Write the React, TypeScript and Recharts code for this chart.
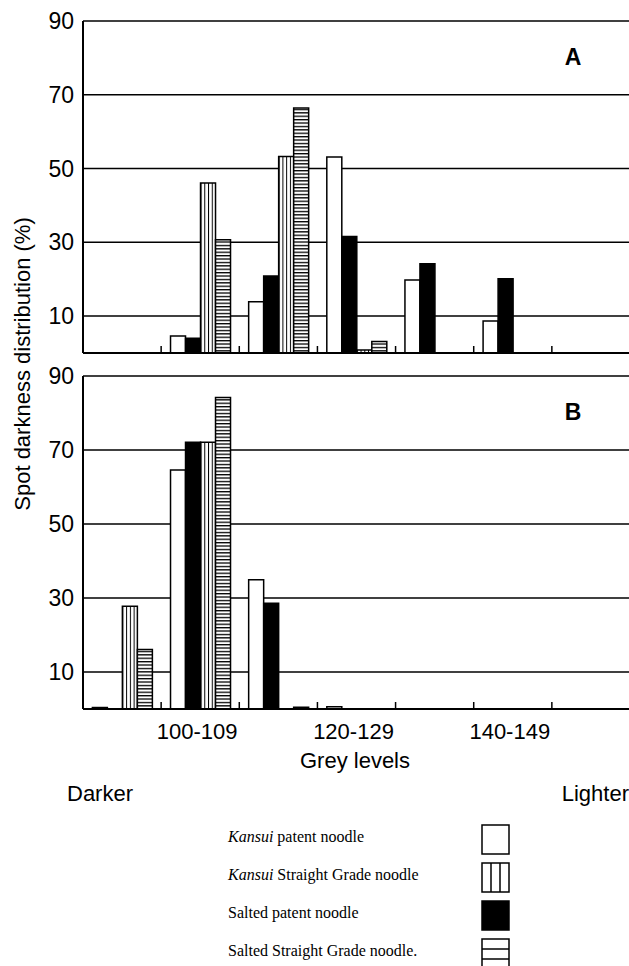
import React from 'react';
import { BarChart, Bar, XAxis, YAxis, CartesianGrid } from 'recharts';

const greyLevels = ['90-99', '100-109', '110-119', '120-129', '130-139', '140-149', '150-159'];
const labelledLevels = ['100-109', '120-129', '140-149'];
const yTicks = [10, 30, 50, 70, 90];

// panel A
const kansuiPatentA = [0, 4.6, 13.9, 53.1, 19.8, 8.7, 0];
const saltedPatentA = [0, 4.0, 20.9, 31.6, 24.2, 20.1, 0];
const kansuiStraightA = [0, 46.1, 53.3, 0.8, 0, 0, 0];
const saltedStraightA = [0, 30.7, 66.4, 3.1, 0, 0, 0];

// panel B
const kansuiPatentB = [0.4, 64.6, 34.9, 0.6, 0, 0, 0];
const saltedPatentB = [0, 72.1, 28.6, 0, 0, 0, 0];
const kansuiStraightB = [27.8, 72.1, 0, 0, 0, 0, 0];
const saltedStraightB = [16.1, 84.2, 0.5, 0, 0, 0, 0];

const legendItems = [
  { pre: 'Kansui', rest: ' patent noodle', swatch: 'white' },
  { pre: 'Kansui', rest: ' Straight Grade noodle', swatch: 'vert' },
  { pre: '', rest: 'Salted patent noodle', swatch: 'black' },
  { pre: '', rest: 'Salted Straight Grade noodle.', swatch: 'horiz' },
];

const SANS = '"Liberation Sans", Arial, Helvetica, sans-serif';
const SERIF = '"Liberation Serif", "Times New Roman", serif';

function buildRows(kp: number[], sp: number[], ks: number[], ss: number[]) {
  return greyLevels.map((level, i) => ({
    level,
    kansuiPatent: kp[i],
    saltedPatent: sp[i],
    kansuiStraight: ks[i],
    saltedStraight: ss[i],
  }));
}

const rowsA = buildRows(kansuiPatentA, saltedPatentA, kansuiStraightA, saltedStraightA);
const rowsB = buildRows(kansuiPatentB, saltedPatentB, kansuiStraightB, saltedStraightB);

function LevelTick(props: any) {
  const { x, y, payload, index, width, visibleTicksCount, showLabel } = props;
  const half = payload.offset > 0 ? payload.offset : width / visibleTicksCount / 2;
  const edge = x - half;
  return (
    <g>
      {index > 0 && (
        <line x1={edge} x2={edge} y1={y} y2={y - 7} stroke="#000" strokeWidth={1.5} />
      )}
      {showLabel && labelledLevels.includes(payload.value) && (
        <text x={x - 3} y={y + 30} textAnchor="middle" fill="#000" fontSize={22} fontFamily={SANS}>
          {payload.value}
        </text>
      )}
    </g>
  );
}

function Panel({ rows, showLabels, height }: { rows: any[]; showLabels: boolean; height: number }) {
  return (
    <BarChart
      width={640}
      height={height}
      data={rows}
      margin={{ top: 21, right: 10, left: 0, bottom: 0 }}
      barCategoryGap="12%"
      barGap={0}
    >
      <CartesianGrid horizontal vertical={false} stroke="#000" strokeWidth={1.5} />
      <XAxis
        dataKey="level"
        interval={0}
        height={showLabels ? 40 : 2}
        tickLine={false}
        tickSize={0}
        tickMargin={0}
        axisLine={{ stroke: '#000', strokeWidth: 2 }}
        tick={(p: any) => <LevelTick {...p} showLabel={showLabels} />}
      />
      <YAxis
        type="number"
        domain={[0, 90]}
        ticks={yTicks}
        width={83}
        tickLine={false}
        tickSize={0}
        tickMargin={9}
        axisLine={{ stroke: '#000', strokeWidth: 2 }}
        tick={{ fill: '#000', fontSize: 23, fontFamily: SANS }}
      />
      <Bar dataKey="kansuiPatent" fill="#fff" stroke="#000" strokeWidth={1.5} isAnimationActive={false} />
      <Bar dataKey="saltedPatent" fill="#000" stroke="#000" strokeWidth={1.5} isAnimationActive={false} />
      <Bar dataKey="kansuiStraight" fill="url(#vertHatch)" stroke="#000" strokeWidth={1.5} isAnimationActive={false} />
      <Bar dataKey="saltedStraight" fill="url(#horizHatch)" stroke="#000" strokeWidth={1.5} isAnimationActive={false} />
    </BarChart>
  );
}

function Swatch({ kind }: { kind: string }) {
  return (
    <svg width={30} height={31}>
      <rect x={1} y={1} width={27} height={29} fill={kind === 'black' ? '#000' : '#fff'} stroke="#000" strokeWidth={1.5} />
      {kind === 'vert' && (
        <g stroke="#000" strokeWidth={1.5}>
          <line x1={10} x2={10} y1={1} y2={30} />
          <line x1={19} x2={19} y1={1} y2={30} />
        </g>
      )}
      {kind === 'horiz' && (
        <g stroke="#000" strokeWidth={1.5}>
          <line x1={1} x2={28} y1={11} y2={11} />
          <line x1={1} x2={28} y1={21} y2={21} />
        </g>
      )}
    </svg>
  );
}

export default function App() {
  const rowTops = [824, 862, 900, 938];
  return (
    <div
      style={{
        position: 'absolute',
        left: 0,
        top: 0,
        width: 629,
        height: 966,
        overflow: 'hidden',
        background: '#fff',
      }}
    >
      <svg width={0} height={0} style={{ position: 'absolute' }}>
        <defs>
          <pattern id="vertHatch" patternUnits="objectBoundingBox" width={0.25} height={1}>
            <rect x={0} y={0} width={50} height={2000} fill="#fff" />
            <rect x={0} y={0} width={1} height={2000} fill="#000" />
          </pattern>
          <pattern id="horizHatch" patternUnits="userSpaceOnUse" width={20} height={3.4}>
            <rect x={0} y={0} width={20} height={3.4} fill="#fff" />
            <rect x={0} y={0} width={20} height={1.3} fill="#000" />
          </pattern>
        </defs>
      </svg>

      <div style={{ position: 'absolute', left: 0, top: 0 }}>
        <Panel rows={rowsA} showLabels={false} height={355} />
      </div>
      <div style={{ position: 'absolute', left: 0, top: 355 }}>
        <Panel rows={rowsB} showLabels height={394} />
      </div>

      <svg
        width={629}
        height={966}
        style={{ position: 'absolute', left: 0, top: 0, pointerEvents: 'none' }}
      >
        <text x={573} y={65} textAnchor="middle" fontSize={23} fontWeight="bold" fontFamily={SANS}>
          A
        </text>
        <text x={573} y={420} textAnchor="middle" fontSize={23} fontWeight="bold" fontFamily={SANS}>
          B
        </text>
        <text
          transform="translate(30, 364) rotate(-90)"
          textAnchor="middle"
          fontSize={22}
          fontFamily={SANS}
        >
          Spot darkness distribution (%)
        </text>
        <text x={355} y={768} textAnchor="middle" fontSize={22} fontFamily={SANS}>
          Grey levels
        </text>
        <text x={67} y={801} fontSize={22} fontFamily={SANS}>
          Darker
        </text>
        <text x={629} y={801} textAnchor="end" fontSize={22} fontFamily={SANS}>
          Lighter
        </text>
      </svg>

      {legendItems.map((item, i) => (
        <React.Fragment key={item.rest}>
          <div
            style={{
              position: 'absolute',
              left: 228,
              top: rowTops[i] + 3,
              fontFamily: SERIF,
              fontSize: 16,
              lineHeight: '20px',
              whiteSpace: 'nowrap',
            }}
          >
            {item.pre && <i>{item.pre}</i>}
            {item.rest}
          </div>
          <div style={{ position: 'absolute', left: 481, top: rowTops[i] }}>
            <Swatch kind={item.swatch} />
          </div>
        </React.Fragment>
      ))}
    </div>
  );
}
